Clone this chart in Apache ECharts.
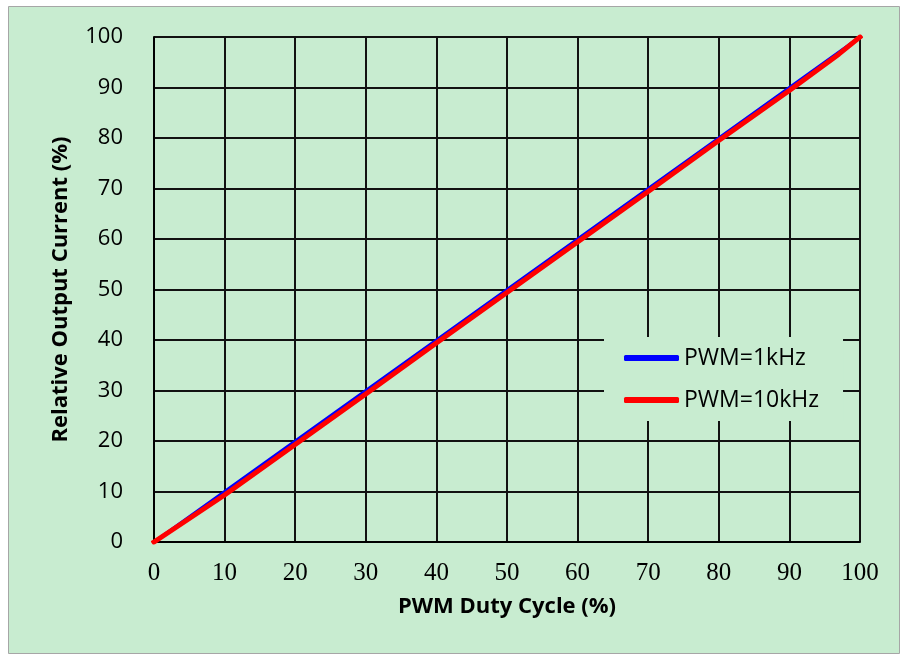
<!DOCTYPE html>
<html><head><meta charset="utf-8">
<script src="https://cdn.jsdelivr.net/npm/echarts@6/dist/echarts.min.js"></script>
<style>html,body{margin:0;padding:0;background:#fff}#c{width:900px;height:654px}</style>
</head><body><div id="c"></div>
<script>
const xTicks = [0,10,20,30,40,50,60,70,80,90,100];
const yTicks = [0,10,20,30,40,50,60,70,80,90,100];
const blueX = [0,10,20,30,40,50,60,70,80,90,100];
const blueY = [0,10,20,30,40,50,60,70,80,90,100];
const redX = [0,10,20,30,40,50,60,70,80,90,97,100];
const redY = [0,9.3,19.3,29.3,39.4,49.4,59.4,69.4,79.5,89.4,96.6,100];
const seriesNames = ['PWM=1kHz','PWM=10kHz'];

const sans = 'Open Sans, Liberation Sans, sans-serif';
const chart = echarts.init(document.getElementById('c'));
chart.setOption({
  animation:false,
  backgroundColor:'#ffffff',
  graphic:[{type:'rect',z:-100,silent:true,shape:{x:8.5,y:6.5,width:891,height:647},style:{fill:'#c8ecd0',stroke:'#a6a6a6',lineWidth:1}}],
  grid:{left:154,right:40,top:37,bottom:112,containLabel:false},
  legend:{
    orient:'vertical',left:604,top:337,
    backgroundColor:'#c8ecd0',padding:[8,24,8,20],
    itemWidth:55,itemHeight:6,icon:'roundRect',itemGap:16,
    textStyle:{fontFamily:sans,fontSize:23,color:'#000',lineHeight:26},
    data:seriesNames
  },
  xAxis:{type:'value',min:0,max:100,interval:10,
    axisLine:{show:true,onZero:false,lineStyle:{color:'#000',width:2}},
    axisTick:{show:false},
    splitLine:{show:true,lineStyle:{color:'#111',width:2}},
    axisLabel:{margin:19,fontFamily:'Liberation Serif, serif',fontSize:25,color:'#000'},
    name:'PWM Duty Cycle (%)',nameLocation:'middle',nameGap:54,
    nameTextStyle:{fontFamily:sans,fontWeight:'bold',fontSize:22,color:'#000'}
  },
  yAxis:{type:'value',min:0,max:100,interval:10,
    axisLine:{show:true,onZero:false,lineStyle:{color:'#000',width:2}},
    axisTick:{show:false},
    splitLine:{show:true,lineStyle:{color:'#111',width:2}},
    axisLabel:{margin:31,fontFamily:sans,fontSize:22,color:'#000'},
    name:'Relative Output Current (%)',nameLocation:'middle',nameGap:82,
    nameTextStyle:{fontFamily:sans,fontWeight:'bold',fontSize:22,color:'#000'}
  },
  series:[
    {name:seriesNames[0],type:'line',showSymbol:false,symbol:'none',
     data:blueX.map((x,i)=>[x,blueY[i]]),lineStyle:{color:'#0000ff',width:3},itemStyle:{color:'#0000ff'},z:2},
    {name:seriesNames[1],type:'line',showSymbol:false,symbol:'none',
     data:redX.map((x,i)=>[x,redY[i]]),lineStyle:{color:'#ff0000',width:5,cap:'square'},itemStyle:{color:'#ff0000'},z:3}
  ]
});
</script></body></html>
